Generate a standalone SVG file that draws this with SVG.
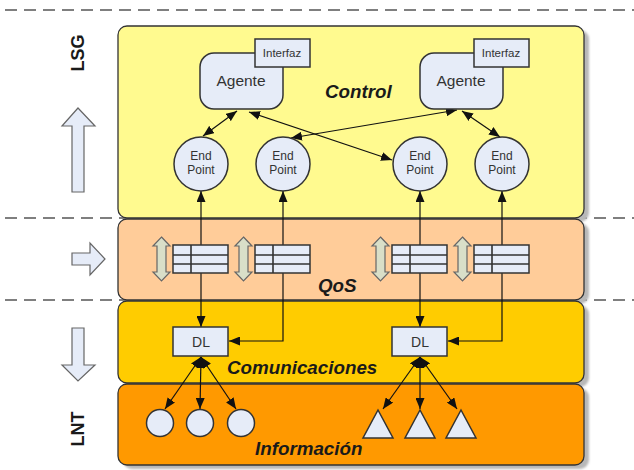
<svg xmlns="http://www.w3.org/2000/svg" xmlns:xlink="http://www.w3.org/1999/xlink" width="634" height="470" viewBox="0 0 634 470">
  <style>
    .sep { stroke: #555; stroke-width: 1.5; stroke-dasharray: 12 7; fill: none; }
    .layer { stroke: #333; stroke-width: 1.3; }
    .shade { fill: #b8b8b8; }
    .node { fill: #e6ecf8; stroke: #333; stroke-width: 1.5; }
    .blk { fill: #e6ecf8; stroke: #666; stroke-width: 1.2; }
    .dbl { fill: #d9dfc8; stroke: #666; stroke-width: 1.2; }
    .grid { stroke: #333; stroke-width: 1.6; fill: none; }
    .conn { stroke: #111; stroke-width: 1.2; fill: none; marker-start: url(#ah); marker-end: url(#ah); }
    .t { font-family: "Liberation Sans", Arial, sans-serif; fill: #333; text-anchor: middle; }
    .big { font-family: "Liberation Sans", Arial, sans-serif; font-weight: bold; font-style: italic; font-size: 18.8px; fill: #1a1a1a; }
    .side { font-family: "Liberation Sans", Arial, sans-serif; font-weight: bold; font-size: 18px; fill: #1a1a1a; text-anchor: middle; }
  </style>
  <defs>
    <marker id="ah" viewBox="0 0 11 9" refX="11" refY="4.5" markerWidth="11" markerHeight="9" markerUnits="userSpaceOnUse" orient="auto-start-reverse">
      <path d="M0,0 L11,4.5 L0,9 z" fill="#111"/>
    </marker>
    <filter id="blur" x="-5%" y="-5%" width="110%" height="110%">
      <feGaussianBlur stdDeviation="1.2"/>
    </filter>
    <!-- queue: vertical double arrow + buffer table, origin at table top-left -->
    <g id="queue">
      <polygon class="dbl" points="-11.5,-8 -3,1 -7,1 -7,27 -3,27 -11.5,36 -20,27 -16,27 -16,1 -20,1"/>
      <rect class="node" x="0" y="0" width="55" height="28"/>
      <path class="grid" d="M18,0 V28 M0,10 H55 M0,19 H55"/>
    </g>
  </defs>

  <!-- layer separators -->
  <g id="separators">
    <line class="sep" x1="5" y1="10" x2="634" y2="10"/>
    <line class="sep" x1="5" y1="218" x2="634" y2="218"/>
    <line class="sep" x1="5" y1="300" x2="634" y2="300"/>
  </g>

  <!-- layer bands -->
  <g id="layers">
    <g filter="url(#blur)">
      <rect class="shade" x="123" y="30" width="466" height="192" rx="9"/>
      <rect class="shade" x="123" y="223" width="466" height="81" rx="9"/>
      <rect class="shade" x="123" y="305" width="466" height="82" rx="9"/>
      <rect class="shade" x="123" y="388" width="466" height="81" rx="9"/>
    </g>
    <rect id="control" class="layer" x="118" y="26" width="466" height="192" rx="9" fill="#fffa8f"/>
    <rect id="qos" class="layer" x="118" y="219" width="466" height="81" rx="9" fill="#ffcc99"/>
    <rect id="comunicaciones" class="layer" x="118" y="301" width="466" height="82" rx="9" fill="#ffcc00"/>
    <rect id="informacion" class="layer" x="118" y="384" width="466" height="81" rx="9" fill="#ff9900"/>
    <text class="big" x="325" y="98">Control</text>
    <text class="big" x="318" y="292">QoS</text>
    <text class="big" x="227" y="374">Comunicaciones</text>
    <text class="big" x="255" y="455">Información</text>
  </g>

  <!-- side labels and direction arrows -->
  <g id="side">
    <text class="side" transform="translate(84,53) rotate(-90)">LSG</text>
    <polygon class="blk" points="78,108 95,126 84,126 84,192 72,192 72,126 62,126"/>
    <polygon class="blk" points="72,253 90,253 90,243 105,259 90,275 90,265 72,265"/>
    <polygon class="blk" points="72,328 84,328 84,365 95,365 78,381 62,365 72,365"/>
    <text class="side" transform="translate(84,429) rotate(-90)">LNT</text>
  </g>

  <!-- connectors -->
  <g id="connectors">
    <line class="conn" x1="203" y1="136" x2="237" y2="111"/>
    <line class="conn" x1="249" y1="112" x2="392" y2="160"/>
    <line class="conn" x1="457" y1="110" x2="291" y2="138"/>
    <line class="conn" x1="462" y1="111" x2="500" y2="137"/>
    <line class="conn" x1="201" y1="327" x2="201" y2="191"/>
    <polyline class="conn" points="283,191 283,341 229,341"/>
    <line class="conn" x1="420" y1="327" x2="420" y2="191"/>
    <polyline class="conn" points="502,191 502,341 448,341"/>
    <line class="conn" x1="201" y1="357" x2="165" y2="409"/>
    <line class="conn" x1="201" y1="357" x2="200" y2="409"/>
    <line class="conn" x1="201" y1="357" x2="236" y2="409"/>
    <line class="conn" x1="420" y1="357" x2="383" y2="409"/>
    <line class="conn" x1="420" y1="357" x2="420" y2="409"/>
    <line class="conn" x1="420" y1="357" x2="457" y2="409"/>
  </g>

  <!-- agents -->
  <g id="agente1">
    <rect class="node" x="200" y="53" width="83" height="56" rx="14"/>
    <rect class="node" x="255" y="39" width="55" height="28"/>
    <text class="t" x="282" y="57" font-size="11.5">Interfaz</text>
    <text class="t" x="241" y="86" font-size="15.5">Agente</text>
  </g>
  <g id="agente2">
    <rect class="node" x="420" y="53" width="83" height="56" rx="14"/>
    <rect class="node" x="474" y="39" width="55" height="28"/>
    <text class="t" x="501" y="57" font-size="11.5">Interfaz</text>
    <text class="t" x="461" y="86" font-size="15.5">Agente</text>
  </g>

  <!-- end points -->
  <g id="ep1">
    <circle class="node" cx="201" cy="164" r="27"/>
    <text class="t" x="201" y="160" font-size="12">End</text>
    <text class="t" x="201" y="174" font-size="12">Point</text>
  </g>
  <g id="ep2">
    <circle class="node" cx="283" cy="164" r="27"/>
    <text class="t" x="283" y="160" font-size="12">End</text>
    <text class="t" x="283" y="174" font-size="12">Point</text>
  </g>
  <g id="ep3">
    <circle class="node" cx="420" cy="164" r="27"/>
    <text class="t" x="420" y="160" font-size="12">End</text>
    <text class="t" x="420" y="174" font-size="12">Point</text>
  </g>
  <g id="ep4">
    <circle class="node" cx="502" cy="164" r="27"/>
    <text class="t" x="502" y="160" font-size="12">End</text>
    <text class="t" x="502" y="174" font-size="12">Point</text>
  </g>

  <!-- QoS queues -->
  <g id="q1"><use xlink:href="#queue" href="#queue" x="173" y="245"/></g>
  <g id="q2"><use xlink:href="#queue" href="#queue" x="255" y="245"/></g>
  <g id="q3"><use xlink:href="#queue" href="#queue" x="392" y="245"/></g>
  <g id="q4"><use xlink:href="#queue" href="#queue" x="474" y="245"/></g>

  <!-- data links -->
  <g id="dl1">
    <rect class="node" x="173" y="327" width="55" height="29"/>
    <text class="t" x="201" y="347" font-size="14">DL</text>
  </g>
  <g id="dl2">
    <rect class="node" x="392" y="327" width="55" height="29"/>
    <text class="t" x="420" y="347" font-size="14">DL</text>
  </g>

  <!-- information sources -->
  <g id="c1"><circle class="node" cx="160" cy="423" r="13.5"/></g>
  <g id="c2"><circle class="node" cx="200" cy="423" r="13.5"/></g>
  <g id="c3"><circle class="node" cx="241" cy="423" r="13.5"/></g>
  <g id="t1"><polygon class="node" points="378,410 393,438 363,438"/></g>
  <g id="t2"><polygon class="node" points="420,410 435,438 405,438"/></g>
  <g id="t3"><polygon class="node" points="461,410 476,438 446,438"/></g>
</svg>
